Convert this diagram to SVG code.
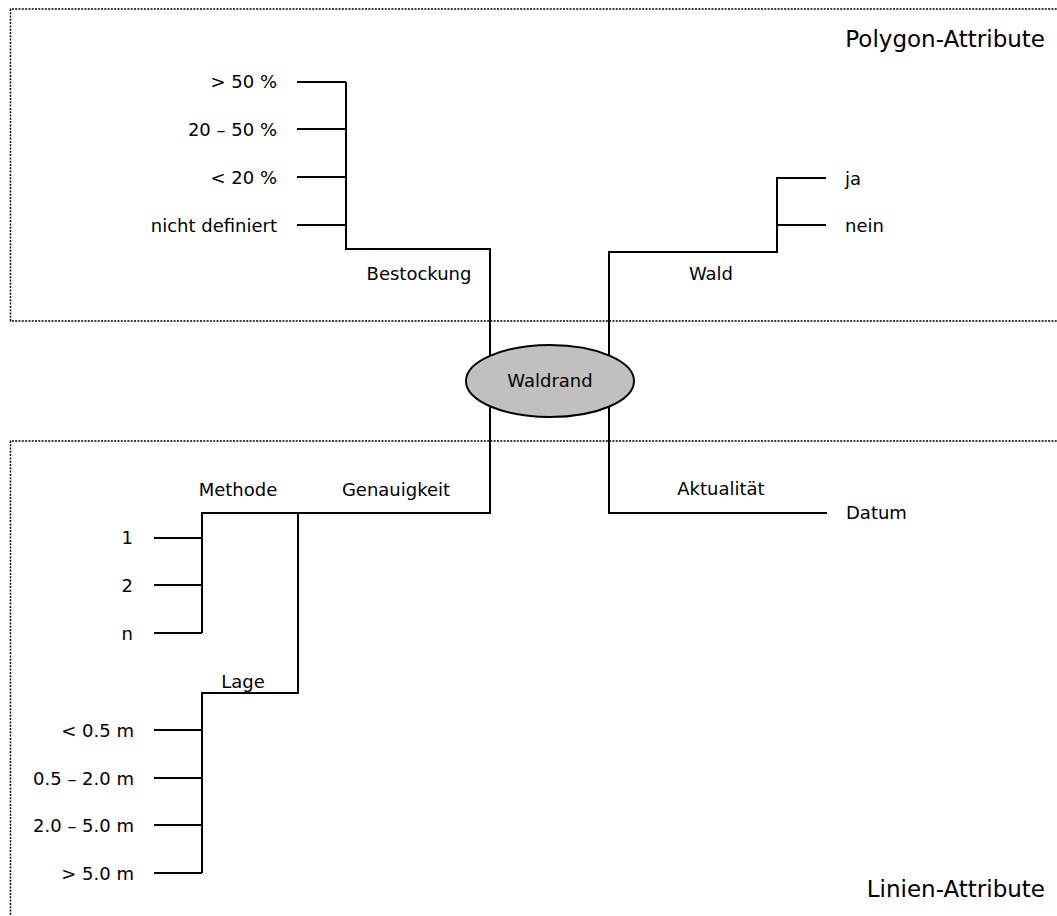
<svg xmlns="http://www.w3.org/2000/svg" width="1057" height="916" viewBox="0 0 1057 916">
<style>
.t{font-family:"DejaVu Sans","Liberation Sans",sans-serif;font-size:18px;fill:#000}
.h{font-family:"DejaVu Sans","Liberation Sans",sans-serif;font-size:23px;fill:#000}
.e{text-anchor:end}
.m{text-anchor:middle}
.c{fill:none;stroke:#000;stroke-width:2}
.d{fill:none;stroke:#000;stroke-width:1.5;stroke-dasharray:2 1.3}
</style>
<rect width="1057" height="916" fill="#fff"/>
<g id="regions">
<path class="d" d="M1060,9 H10.5 V321 H1060"/>
<path class="d" d="M1060,441 H10.5 V920"/>
<text class="h e" x="1045" y="47">Polygon-Attribute</text>
<text class="h e" x="1045" y="897">Linien-Attribute</text>
</g>
<g id="connectors">
<path class="c" d="M297,82 H346 M297,129 H346 M297,177 H346 M297,225 H346 M346,82 V249 H490 V513 H202 V633 M154,538 H202 M154,585 H202 M154,633 H202"/>
<path class="c" d="M298,513 V693 H202 V873 M154,730 H202 M154,778 H202 M154,825 H202 M154,873 H202"/>
<path class="c" d="M827,513 H609 V252 H777 V178 H826 M777,225 H826"/>
</g>
<g id="bestockung-values">
<text class="t e" x="277" y="88">&gt; 50 %</text>
<text class="t e" x="277" y="136">20 – 50 %</text>
<text class="t e" x="277" y="184">&lt; 20 %</text>
<text class="t e" x="277" y="232">nicht definiert</text>
</g>
<g id="bestockung"><text class="t m" x="419" y="280">Bestockung</text></g>
<g id="wald"><text class="t m" x="711" y="280">Wald</text></g>
<g id="wald-values">
<text class="t" x="845" y="185">ja</text>
<text class="t" x="845" y="232">nein</text>
</g>
<g id="waldrand">
<ellipse cx="550" cy="381" rx="84" ry="36" fill="#c0c0c0" stroke="#000" stroke-width="2"/>
<text class="t m" x="550" y="387">Waldrand</text>
</g>
<g id="genauigkeit"><text class="t m" x="396" y="496">Genauigkeit</text></g>
<g id="methode"><text class="t m" x="238" y="496">Methode</text></g>
<g id="methode-values">
<text class="t e" x="133" y="544">1</text>
<text class="t e" x="133" y="592">2</text>
<text class="t e" x="133" y="640">n</text>
</g>
<g id="lage"><text class="t m" x="243" y="688">Lage</text></g>
<g id="lage-values">
<text class="t e" x="134" y="737">&lt; 0.5 m</text>
<text class="t e" x="134" y="785">0.5 – 2.0 m</text>
<text class="t e" x="134" y="832">2.0 – 5.0 m</text>
<text class="t e" x="134" y="880">&gt; 5.0 m</text>
</g>
<g id="aktualitaet"><text class="t m" x="721" y="495">Aktualität</text></g>
<g id="datum"><text class="t" x="846" y="519">Datum</text></g>
</svg>
